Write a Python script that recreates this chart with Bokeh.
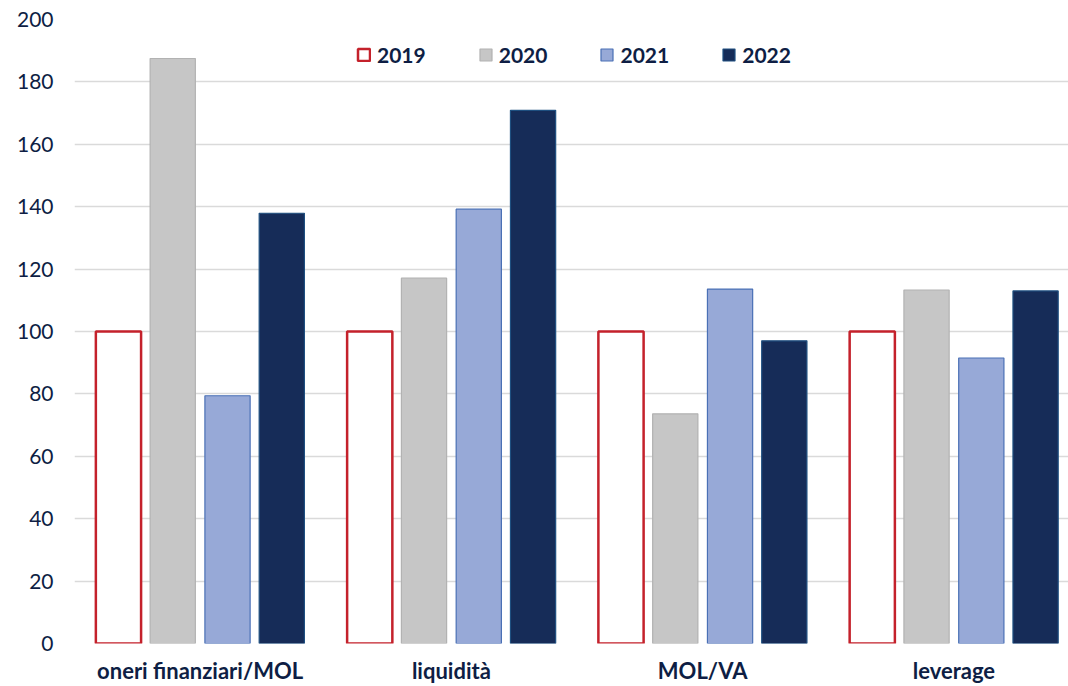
from bokeh.plotting import figure
from bokeh.models import Range1d, FixedTicker, ColumnDataSource, Legend, LegendItem
from bokeh.embed import file_html
from bokeh.resources import INLINE

categories = ["oneri finanziari/MOL", "liquidità", "MOL/VA", "leverage"]
years = ["2019", "2020", "2021", "2022"]
v2019 = [100, 100, 100, 100]
v2020 = [187.5, 117.1, 73.6, 113.3]
v2021 = [79.4, 139.2, 113.6, 91.5]
v2022 = [137.9, 170.9, 97.0, 113.0]
y_ticks = [0, 20, 40, 60, 80, 100, 120, 140, 160, 180, 200]

series = [v2019, v2020, v2021, v2022]
offsets = [-0.325, -0.109, 0.109, 0.325]
fills = ["#FFFFFF", "#C6C6C6", "#97A9D7", "#162C58"]
lines = ["#C4212B", "#B2B2B2", "#4A70B5", "#1E4F80"]
lwidths = [2.5, 1.2, 1.2, 1.2]

NAVY = "#0E1E44"
FONT = "Lato"

p = figure(width=1068, height=686, output_backend="svg", toolbar_location=None,
           x_range=Range1d(-0.5, 3.456), y_range=Range1d(0, 200),
           min_border_left=74, min_border_right=0, min_border_top=19, min_border_bottom=0)
p.outline_line_color = None
p.background_fill_color = "white"

items = []
for yr, vals, off, fc, lc, lw in zip(years, series, offsets, fills, lines, lwidths):
    src = ColumnDataSource(dict(x=[i + off for i in range(len(categories))], top=vals))
    r = p.vbar(x="x", top="top", width=0.18, bottom=0, source=src,
               fill_color=fc, line_color=lc, line_width=lw)
    items.append(LegendItem(label=yr, renderers=[r]))

legend = Legend(items=items, orientation="horizontal", location=(282, 576),
                border_line_color=None, background_fill_alpha=0,
                glyph_width=15, glyph_height=15, label_standoff=6, spacing=52,
                padding=0, margin=0,
                label_text_font=FONT, label_text_font_style="bold",
                label_text_font_size="21px", label_text_color=NAVY)
p.add_layout(legend, "center")

p.xaxis.ticker = FixedTicker(ticks=list(range(len(categories))))
p.xaxis.major_label_overrides = {i: c for i, c in enumerate(categories)}
p.xaxis.axis_line_color = None
p.xaxis.major_tick_line_color = None
p.xaxis.minor_tick_line_color = None
p.xaxis.major_tick_out = 0
p.xaxis.major_label_standoff = 13
p.xaxis.major_label_text_font = FONT
p.xaxis.major_label_text_font_style = "bold"
p.xaxis.major_label_text_font_size = "22px"
p.xaxis.major_label_text_color = NAVY

p.yaxis.ticker = FixedTicker(ticks=y_ticks)
p.yaxis.axis_line_color = None
p.yaxis.major_tick_line_color = None
p.yaxis.minor_tick_line_color = None
p.yaxis.major_tick_out = 0
p.yaxis.major_label_standoff = 21
p.yaxis.major_label_text_font = FONT
p.yaxis.major_label_text_font_size = "21px"
p.yaxis.major_label_text_color = NAVY

p.xgrid.grid_line_color = None
p.ygrid.grid_line_color = "#DADADA"
p.ygrid.grid_line_width = 1.5
p.ygrid.ticker = FixedTicker(ticks=y_ticks)

open("out.html", "w").write(file_html(p, INLINE))
